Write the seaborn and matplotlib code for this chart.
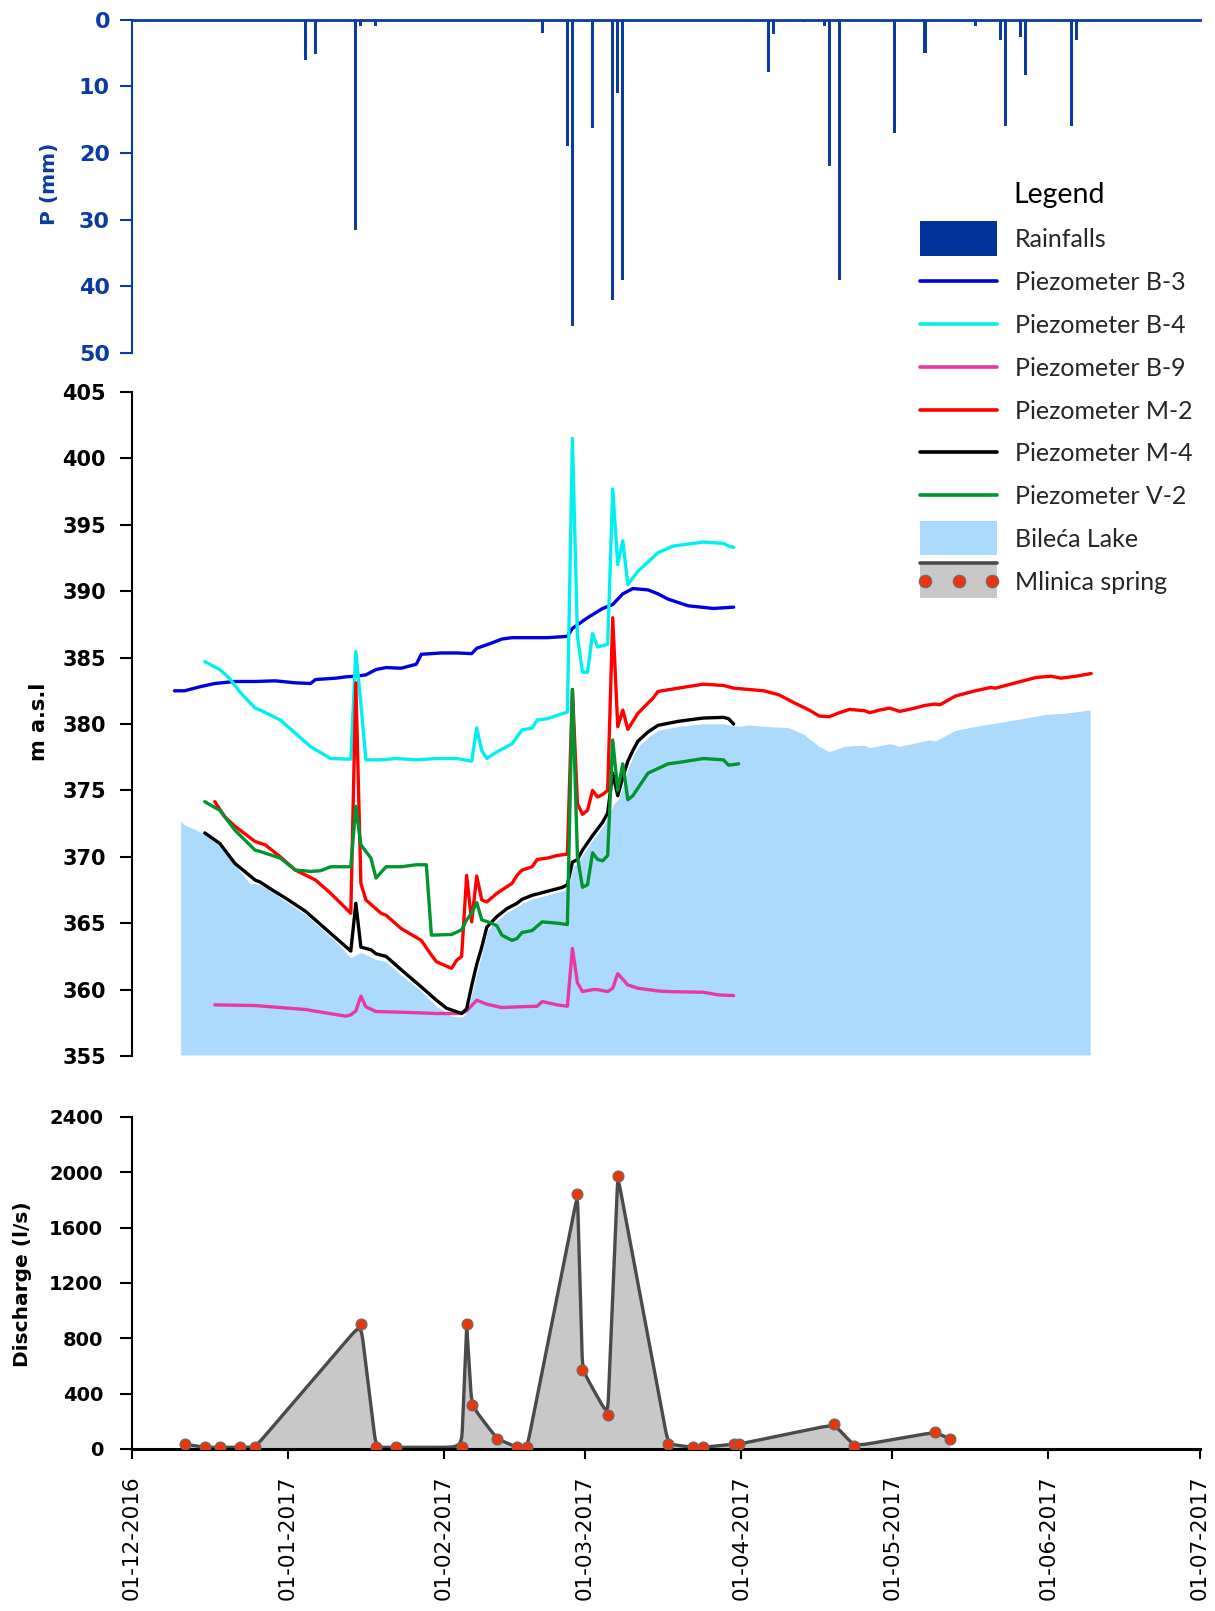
import numpy as np
import pandas as pd
import matplotlib
matplotlib.use("Agg")
import matplotlib.pyplot as plt
import matplotlib.dates as mdates
from matplotlib.patches import Rectangle
from matplotlib.lines import Line2D
from matplotlib.legend_handler import HandlerBase
import seaborn as sns

# ---------------------------------------------------------------- rainfall
rain_dates = ["2017-01-04", "2017-01-06", "2017-01-14", "2017-01-15", "2017-01-18",
              "2017-02-20", "2017-02-25", "2017-02-26", "2017-03-01", "2017-03-02",
              "2017-03-06", "2017-03-07", "2017-03-08", "2017-04-06", "2017-04-07",
              "2017-04-13", "2017-04-17", "2017-04-18", "2017-04-20", "2017-05-01",
              "2017-05-07", "2017-05-17", "2017-05-22", "2017-05-23", "2017-05-26",
              "2017-05-27", "2017-06-05", "2017-06-06"]
rain_mm = [6.1, 5.2, 31.5, 1.0, 1.0,
           2.0, 19.0, 46.0, 0.3, 16.2,
           42.0, 11.0, 39.0, 7.9, 2.1,
           0.3, 1.0, 22.0, 39.0, 17.0,
           5.0, 1.0, 3.0, 16.0, 2.6,
           8.3, 16.0, 3.0]

# ---------------------------------------------------------------- piezometers (m a.s.l.)
b3_dates = ["2016-12-09", "2016-12-11", "2016-12-14", "2016-12-17", "2016-12-21", "2016-12-25",
            "2016-12-29", "2017-01-02", "2017-01-05", "2017-01-06", "2017-01-10", "2017-01-12",
            "2017-01-14", "2017-01-16", "2017-01-18", "2017-01-20", "2017-01-23", "2017-01-26",
            "2017-01-27", "2017-01-31", "2017-02-03", "2017-02-06", "2017-02-07", "2017-02-10",
            "2017-02-12", "2017-02-14", "2017-02-18", "2017-02-21", "2017-02-25", "2017-02-26",
            "2017-03-01", "2017-03-04", "2017-03-06", "2017-03-08", "2017-03-10", "2017-03-13",
            "2017-03-15", "2017-03-17", "2017-03-21", "2017-03-26", "2017-03-30"]
b3_level = [382.5, 382.5, 382.8, 383.05, 383.2, 383.2,
            383.25, 383.1, 383.05, 383.35, 383.45, 383.55,
            383.6, 383.7, 384.1, 384.25, 384.2, 384.5,
            385.25, 385.35, 385.35, 385.3, 385.7, 386.1,
            386.4, 386.5, 386.5, 386.5, 386.6, 387.2,
            388.0, 388.7, 389.0, 389.8, 390.2, 390.1,
            389.8, 389.4, 388.9, 388.7, 388.8]

b4_dates = ["2016-12-15", "2016-12-18", "2016-12-20", "2016-12-22", "2016-12-25", "2016-12-26",
            "2016-12-30", "2017-01-02", "2017-01-05", "2017-01-09", "2017-01-13", "2017-01-14",
            "2017-01-15", "2017-01-16", "2017-01-19", "2017-01-22", "2017-01-26", "2017-01-30",
            "2017-02-03", "2017-02-06", "2017-02-07", "2017-02-08", "2017-02-09", "2017-02-11",
            "2017-02-14", "2017-02-16", "2017-02-18", "2017-02-19", "2017-02-21", "2017-02-23",
            "2017-02-25", "2017-02-26", "2017-02-27", "2017-02-28", "2017-03-01", "2017-03-02",
            "2017-03-03", "2017-03-05", "2017-03-06", "2017-03-07", "2017-03-08", "2017-03-09",
            "2017-03-11", "2017-03-15", "2017-03-18", "2017-03-21", "2017-03-24", "2017-03-28",
            "2017-03-29", "2017-03-30"]
b4_level = [384.7, 384.1, 383.4, 382.4, 381.2, 381.05,
            380.3, 379.3, 378.3, 377.4, 377.35, 385.45,
            381.5, 377.3, 377.3, 377.4, 377.3, 377.4,
            377.4, 377.2, 379.7, 378.0, 377.4, 377.9,
            378.5, 379.55, 379.7, 380.3, 380.4, 380.65,
            380.9, 401.5, 386.6, 383.9, 383.9, 386.8,
            385.8, 386.0, 397.7, 392.0, 393.8, 390.5,
            391.5, 392.9, 393.4, 393.55, 393.7, 393.6,
            393.4, 393.3]

b9_dates = ["2016-12-17", "2016-12-25", "2017-01-04", "2017-01-12", "2017-01-13", "2017-01-14",
            "2017-01-15", "2017-01-16", "2017-01-18", "2017-01-23", "2017-01-30", "2017-02-04",
            "2017-02-05", "2017-02-07", "2017-02-09", "2017-02-12", "2017-02-15", "2017-02-19",
            "2017-02-20", "2017-02-23", "2017-02-25", "2017-02-26", "2017-02-27", "2017-02-28",
            "2017-03-02", "2017-03-03", "2017-03-05", "2017-03-06", "2017-03-07", "2017-03-09",
            "2017-03-11", "2017-03-15", "2017-03-17", "2017-03-24", "2017-03-27", "2017-03-30"]
b9_level = [358.85, 358.8, 358.5, 358.0, 358.1, 358.4,
            359.5, 358.7, 358.35, 358.3, 358.2, 358.2,
            358.4, 359.2, 358.9, 358.65, 358.7, 358.75,
            359.1, 358.85, 358.75, 363.1, 360.5, 359.85,
            360.0, 360.0, 359.85, 360.1, 361.2, 360.35,
            360.1, 359.9, 359.85, 359.8, 359.6, 359.55]

m2_dates = ["2016-12-17", "2016-12-19", "2016-12-21", "2016-12-25", "2016-12-27", "2016-12-30",
            "2017-01-02", "2017-01-06", "2017-01-09", "2017-01-13", "2017-01-14", "2017-01-15",
            "2017-01-16", "2017-01-19", "2017-01-20", "2017-01-23", "2017-01-27", "2017-01-29",
            "2017-01-30", "2017-02-02", "2017-02-03", "2017-02-04", "2017-02-05", "2017-02-06",
            "2017-02-07", "2017-02-08", "2017-02-09", "2017-02-11", "2017-02-14", "2017-02-15",
            "2017-02-16", "2017-02-18", "2017-02-19", "2017-02-21", "2017-02-23", "2017-02-25",
            "2017-02-26", "2017-02-27", "2017-02-28", "2017-03-01", "2017-03-02", "2017-03-03",
            "2017-03-04", "2017-03-05", "2017-03-06", "2017-03-07", "2017-03-08", "2017-03-09",
            "2017-03-11", "2017-03-14", "2017-03-15", "2017-03-19", "2017-03-24", "2017-03-28",
            "2017-03-30", "2017-04-02", "2017-04-05", "2017-04-08", "2017-04-11", "2017-04-14",
            "2017-04-16", "2017-04-18", "2017-04-20", "2017-04-22", "2017-04-25", "2017-04-26",
            "2017-04-28", "2017-04-30", "2017-05-02", "2017-05-05", "2017-05-07", "2017-05-09",
            "2017-05-10", "2017-05-13", "2017-05-17", "2017-05-20", "2017-05-21", "2017-05-25",
            "2017-05-29", "2017-06-01", "2017-06-03", "2017-06-06", "2017-06-09"]
m2_level = [374.15, 373.0, 372.3, 371.15, 370.9, 370.0,
            369.0, 368.25, 367.25, 365.75, 383.1, 368.0,
            366.75, 365.75, 365.6, 364.6, 363.7, 362.6,
            362.1, 361.6, 362.2, 362.5, 368.6, 365.1,
            368.55, 366.75, 366.6, 367.25, 368.0, 368.6,
            369.0, 369.25, 369.8, 369.9, 370.1, 370.2,
            382.6, 374.0, 373.2, 373.5, 375.0, 374.5,
            374.7, 375.0, 388.0, 379.8, 381.05, 379.6,
            380.8, 381.95, 382.45, 382.7, 383.0, 382.9,
            382.7, 382.6, 382.5, 382.2, 381.6, 381.05,
            380.6, 380.55, 380.85, 381.1, 381.0, 380.85,
            381.05, 381.2, 380.95, 381.2, 381.4, 381.5,
            381.45, 382.1, 382.5, 382.75, 382.7, 383.1,
            383.5, 383.6, 383.45, 383.6, 383.8]

m4_dates = ["2016-12-15", "2016-12-18", "2016-12-21", "2016-12-25", "2016-12-26", "2016-12-28",
            "2016-12-31", "2017-01-04", "2017-01-07", "2017-01-10", "2017-01-13", "2017-01-14",
            "2017-01-15", "2017-01-17", "2017-01-18", "2017-01-20", "2017-01-23", "2017-01-27",
            "2017-01-30", "2017-02-01", "2017-02-04", "2017-02-05", "2017-02-06", "2017-02-07",
            "2017-02-08", "2017-02-09", "2017-02-11", "2017-02-13", "2017-02-15", "2017-02-16",
            "2017-02-18", "2017-02-21", "2017-02-24", "2017-02-25", "2017-02-26", "2017-02-27",
            "2017-02-28", "2017-03-02", "2017-03-04", "2017-03-05", "2017-03-06", "2017-03-07",
            "2017-03-08", "2017-03-09", "2017-03-10", "2017-03-11", "2017-03-13", "2017-03-15",
            "2017-03-19", "2017-03-24", "2017-03-28", "2017-03-29", "2017-03-30"]
m4_level = [371.8, 371.0, 369.5, 368.25, 368.1, 367.6,
            366.9, 365.9, 364.9, 363.9, 362.9, 366.5,
            363.2, 363.0, 362.7, 362.5, 361.5, 360.2,
            359.2, 358.6, 358.2, 358.55, 360.3, 361.9,
            363.2, 364.7, 365.5, 366.1, 366.5, 366.8,
            367.1, 367.4, 367.7, 367.9, 369.6, 369.8,
            370.5, 371.6, 372.6, 373.3, 376.3, 374.6,
            376.0, 377.2, 378.0, 378.7, 379.4, 379.9,
            380.2, 380.45, 380.5, 380.4, 380.0]

v2_dates = ["2016-12-15", "2016-12-18", "2016-12-21", "2016-12-25", "2016-12-26", "2016-12-30",
            "2017-01-02", "2017-01-05", "2017-01-07", "2017-01-09", "2017-01-13", "2017-01-14",
            "2017-01-15", "2017-01-17", "2017-01-18", "2017-01-20", "2017-01-23", "2017-01-26",
            "2017-01-28", "2017-01-29", "2017-02-02", "2017-02-04", "2017-02-05", "2017-02-06",
            "2017-02-07", "2017-02-08", "2017-02-10", "2017-02-11", "2017-02-12", "2017-02-14",
            "2017-02-15", "2017-02-16", "2017-02-18", "2017-02-20", "2017-02-23", "2017-02-25",
            "2017-02-26", "2017-02-27", "2017-02-28", "2017-03-01", "2017-03-02", "2017-03-03",
            "2017-03-04", "2017-03-05", "2017-03-06", "2017-03-07", "2017-03-08", "2017-03-09",
            "2017-03-10", "2017-03-13", "2017-03-17", "2017-03-19", "2017-03-24", "2017-03-28",
            "2017-03-29", "2017-03-31"]
v2_level = [374.15, 373.5, 372.0, 370.5, 370.4, 369.9,
            369.0, 368.9, 368.95, 369.25, 369.25, 373.8,
            370.9, 369.9, 368.4, 369.25, 369.25, 369.4,
            369.4, 364.1, 364.15, 364.5, 365.25, 365.75,
            366.55, 365.25, 365.0, 364.8, 364.1, 363.7,
            363.85, 364.3, 364.45, 365.1, 365.0, 364.9,
            382.6, 370.0, 367.7, 367.9, 370.3, 369.8,
            369.7, 370.1, 378.8, 375.0, 377.0, 374.3,
            374.6, 376.3, 377.0, 377.1, 377.4, 377.3,
            376.9, 377.0]

lake_dates = ["2016-12-10", "2016-12-11", "2016-12-15", "2016-12-18", "2016-12-21", "2016-12-24",
              "2016-12-26", "2016-12-28", "2016-12-31", "2017-01-04", "2017-01-07", "2017-01-10",
              "2017-01-13", "2017-01-15", "2017-01-18", "2017-01-20", "2017-01-23", "2017-01-27",
              "2017-01-30", "2017-02-02", "2017-02-04", "2017-02-05", "2017-02-06", "2017-02-08",
              "2017-02-09", "2017-02-11", "2017-02-13", "2017-02-15", "2017-02-16", "2017-02-18",
              "2017-02-21", "2017-02-24", "2017-02-25", "2017-02-26", "2017-02-27", "2017-02-28",
              "2017-03-02", "2017-03-04", "2017-03-05", "2017-03-06", "2017-03-07", "2017-03-08",
              "2017-03-09", "2017-03-10", "2017-03-11", "2017-03-13", "2017-03-15", "2017-03-19",
              "2017-03-24", "2017-03-28", "2017-03-31", "2017-04-02", "2017-04-05", "2017-04-10",
              "2017-04-13", "2017-04-16", "2017-04-18", "2017-04-21", "2017-04-25", "2017-04-26",
              "2017-04-30", "2017-05-02", "2017-05-08", "2017-05-09", "2017-05-13", "2017-05-17",
              "2017-05-25", "2017-05-31", "2017-06-04", "2017-06-09"]
lake_level = [372.9, 372.5, 371.8, 370.9, 369.5, 368.1,
              368.0, 367.55, 366.75, 365.75, 364.75, 363.75,
              362.5, 362.9, 362.35, 362.2, 361.2, 360.0,
              358.85, 358.1, 358.0, 358.4, 360.0, 363.0,
              364.5, 365.3, 365.9, 366.3, 366.6, 366.9,
              367.2, 367.5, 367.7, 369.3, 369.6, 370.3,
              371.4, 372.4, 373.1, 374.0, 374.4, 375.6,
              376.8, 377.7, 378.4, 379.1, 379.6, 379.9,
              380.1, 380.1, 379.9, 380.0, 379.9, 379.8,
              379.3, 378.4, 378.0, 378.4, 378.5, 378.3,
              378.6, 378.4, 378.9, 378.8, 379.6, 379.9,
              380.4, 380.8, 380.9, 381.15]

# ---------------------------------------------------------------- Mlinica spring discharge (l/s)
q_dates = ["2016-12-11", "2016-12-15", "2016-12-18", "2016-12-22", "2016-12-25", "2017-01-15",
           "2017-01-18", "2017-01-22", "2017-02-04", "2017-02-05", "2017-02-06", "2017-02-11",
           "2017-02-15", "2017-02-17", "2017-02-27", "2017-02-28", "2017-03-05", "2017-03-07",
           "2017-03-17", "2017-03-22", "2017-03-24", "2017-03-30", "2017-03-31", "2017-04-19",
           "2017-04-23", "2017-05-09", "2017-05-12"]
q_ls = [35, 12, 12, 12, 12, 905,
        12, 12, 12, 905, 315, 75,
        12, 12, 1840, 570, 245, 1975,
        35, 12, 12, 35, 35, 178,
        20, 122, 72]

well_names = ["Piezometer B-3", "Piezometer B-4", "Piezometer B-9",
              "Piezometer M-2", "Piezometer M-4", "Piezometer V-2"]
well_colors = ["#0000e0", "#00f0f0", "#e8399e", "#ff0000", "#000000", "#00952f"]

RAIN_BLUE = "#0b3aa3"
AXIS_BLUE = "#0b3aa3"
LEGEND_RAIN = "#003399"
LAKE_BLUE = "#abdafc"
SPRING_GRAY = "#c8c8c8"
SPRING_LINE = "#4a4a4a"
SPRING_DOT = "#e8360e"

START = pd.Timestamp("2016-12-01")
END = pd.Timestamp("2017-07-01")
MIDDAY = pd.Timedelta(hours=12)   # daily values are drawn at the middle of their day

sns.set_style("white")
plt.rcParams["font.family"] = ["DejaVu Sans"]
LEGEND_FONT = ["Lato", "DejaVu Sans"]

W, H = 1215, 1611
fig = plt.figure(figsize=(W / 100, H / 100), dpi=100)


def px_box(left, top, right, bottom):
    return [left / W, 1 - bottom / H, (right - left) / W, (bottom - top) / H]


X0, X1 = 131.7, 1199.5
ax_p = fig.add_axes(px_box(X0, 19.5, X1, 353))
ax_h = fig.add_axes(px_box(X0, 392, X1, 1056))
ax_q = fig.add_axes(px_box(X0, 1117, X1, 1449))

# ---------------------------------------------------------------- rainfall panel
rain_t = pd.to_datetime(rain_dates) + MIDDAY
ax_p.bar(rain_t, rain_mm, width=0.6, color=RAIN_BLUE, linewidth=0)
ax_p.set_xlim(START, END)
ax_p.set_ylim(50, 0)
ax_p.set_yticks(range(0, 51, 10))
ax_p.tick_params(axis="x", bottom=False, top=False, labelbottom=False)
ax_p.tick_params(axis="y", direction="out", length=8.6, width=1.5, pad=7,
                 colors=AXIS_BLUE, labelsize=16, left=True)
plt.setp(ax_p.get_yticklabels(), fontweight="bold")
for side in ("bottom", "right"):
    ax_p.spines[side].set_visible(False)
ax_p.spines["top"].set_color(AXIS_BLUE)
ax_p.spines["top"].set_linewidth(2)
ax_p.spines["left"].set_color(AXIS_BLUE)
ax_p.spines["left"].set_linewidth(1.5)

# ---------------------------------------------------------------- piezometer panel
lake_t = pd.to_datetime(lake_dates) + MIDDAY
ax_h.fill_between(lake_t, 355, lake_level, facecolor=LAKE_BLUE, edgecolor="white",
                  linewidth=1.5, zorder=1)

series = [b3_dates, b4_dates, b9_dates, m2_dates, m4_dates, v2_dates]
values = [b3_level, b4_level, b9_level, m2_level, m4_level, v2_level]
levels = pd.concat(
    [pd.DataFrame({"date": pd.to_datetime(d) + MIDDAY, "level": v, "well": n})
     for n, d, v in zip(well_names, series, values)],
    ignore_index=True)
sns.lineplot(data=levels, x="date", y="level", hue="well", hue_order=well_names,
             palette=dict(zip(well_names, well_colors)), estimator=None,
             linewidth=2.4, legend=False, ax=ax_h, zorder=2)
ax_h.set_xlabel("")
ax_h.set_ylabel("")
ax_h.set_xlim(START, END)
ax_h.set_ylim(355, 405)
ax_h.set_yticks(range(355, 406, 5))
ax_h.tick_params(axis="x", bottom=False, labelbottom=False)
ax_h.tick_params(axis="y", direction="out", length=8.6, width=1.5, pad=10,
                 colors="black", labelsize=15, left=True)
plt.setp(ax_h.get_yticklabels(), fontweight="bold")
for side in ("top", "bottom", "right"):
    ax_h.spines[side].set_visible(False)
ax_h.spines["left"].set_color("black")
ax_h.spines["left"].set_linewidth(1.5)

# ---------------------------------------------------------------- discharge panel
q_t = pd.to_datetime(q_dates) + MIDDAY
q_days = np.asarray((q_t - START) / pd.Timedelta(days=1), dtype=float)
q_vals = np.asarray(q_ls, dtype=float)

# connecting line with softly rounded corners, built in screen proportions
sx = (X1 - X0) / ((END - START).days)   # px per day
sy = (1449 - 1117) / 2400.0             # px per l/s
P = np.column_stack([q_days * sx, q_vals * sy])


def rounded_path(pts, radius=24.0, steps=18):
    t = np.linspace(0.0, 1.0, steps)[:, None]
    path = [pts[0]]
    for i in range(1, len(pts) - 1):
        v_in, v_out = pts[i] - pts[i - 1], pts[i + 1] - pts[i]
        l_in, l_out = np.hypot(*v_in), np.hypot(*v_out)
        if l_in == 0 or l_out == 0:
            path.append(pts[i])
            continue
        a = pts[i] - v_in / l_in * min(0.5 * l_in, radius)
        b = pts[i] + v_out / l_out * min(0.5 * l_out, radius)
        corner = ((1 - t) ** 3 * a + 3 * (1 - t) ** 2 * t * pts[i]
                  + 3 * (1 - t) * t ** 2 * pts[i] + t ** 3 * b)
        path.extend(corner)
    path.append(pts[-1])
    return np.array(path)


curve = rounded_path(P)
curve_t = START + pd.to_timedelta(curve[:, 0] / sx, unit="D")
curve_q = np.clip(curve[:, 1] / sy, 0, None)

poly_t = curve_t.append(pd.DatetimeIndex([curve_t[-1], curve_t[0]]))
poly_q = np.r_[curve_q, 0, 0]
sns.scatterplot(x=q_t, y=q_vals, ax=ax_q, s=62, color=SPRING_DOT, edgecolor="#6b6b6b",
                linewidth=0.8, zorder=4, legend=False)
ax_q.fill(poly_t, poly_q, color=SPRING_GRAY, linewidth=0, zorder=1)
ax_q.plot(curve_t, curve_q, color=SPRING_LINE, linewidth=2.4, zorder=2,
          solid_joinstyle="round")
ax_q.set_xlabel("")
ax_q.set_ylabel("")

ax_q.set_xlim(START, END)
ax_q.set_ylim(0, 2400)
ax_q.set_yticks(range(0, 2401, 400))
ax_q.xaxis.set_major_locator(mdates.MonthLocator())
ax_q.xaxis.set_major_formatter(mdates.DateFormatter("%d-%m-%Y"))
ax_q.tick_params(axis="x", direction="out", length=7, width=1.5, pad=12,
                 labelsize=15.5, labelrotation=90, bottom=True, colors="black")
ax_q.tick_params(axis="y", direction="out", length=8.6, width=1.5, pad=12,
                 labelsize=14, left=True, colors="black")
plt.setp(ax_q.get_yticklabels(), fontweight="bold")
for side in ("top", "right"):
    ax_q.spines[side].set_visible(False)
ax_q.spines["left"].set_color("black")
ax_q.spines["left"].set_linewidth(1.5)
ax_q.spines["bottom"].set_color("black")
ax_q.spines["bottom"].set_linewidth(2.2)

# ---------------------------------------------------------------- axis titles
fig.text(50 / W, 1 - 184 / H, "P (mm)", rotation=90, ha="center", va="center",
         color=AXIS_BLUE, fontsize=14.5, fontweight="bold")
fig.text(39 / W, 1 - 722 / H, "m a.s.l", rotation=90, ha="center", va="center",
         color="black", fontsize=15, fontweight="bold")
fig.text(23 / W, 1 - 1284 / H, "Discharge (l/s)", rotation=90, ha="center", va="center",
         color="black", fontsize=14.5, fontweight="bold")


# ---------------------------------------------------------------- legend
class Key:
    def __init__(self, kind, color=None):
        self.kind = kind
        self.color = color


class KeyHandler(HandlerBase):
    """Draws every legend key centred on the label's cap height."""
    box_pt = 24.8   # height of the filled keys, in points

    def create_artists(self, legend, orig_handle, xdescent, ydescent, width, height,
                       fontsize, trans):
        x0 = -xdescent
        yc = 0.36 * fontsize
        lo, hi = yc - self.box_pt / 2, yc + self.box_pt / 2
        kind = orig_handle.kind
        if kind == "line":
            return [Line2D([x0, x0 + width], [yc, yc], color=orig_handle.color,
                           linewidth=2.6, transform=trans)]
        if kind == "patch":
            return [Rectangle((x0, lo), width, hi - lo, facecolor=orig_handle.color,
                              edgecolor="none", transform=trans)]
        band = Rectangle((x0, lo), width, hi - lo, facecolor=SPRING_GRAY,
                         edgecolor="none", transform=trans)
        rim = Line2D([x0, x0 + width], [hi, hi], color=SPRING_LINE,
                     linewidth=2.6, transform=trans)
        dots = Line2D(x0 + width * np.array([0.06, 0.5, 0.94]), [yc] * 3,
                      linestyle="none", marker="o", markersize=9,
                      markerfacecolor=SPRING_DOT, markeredgecolor="#6b6b6b",
                      markeredgewidth=0.8, transform=trans)
        return [band, rim, dots]


handles = ([Key("patch", LEGEND_RAIN)] + [Key("line", c) for c in well_colors]
           + [Key("patch", LAKE_BLUE), Key("spring")])
labels = ["Rainfalls"] + well_names + ["Bileća Lake", "Mlinica spring"]

fig.text(1059.5 / W, 1 - 203 / H, "Legend", ha="center", va="baseline",
         family=LEGEND_FONT, fontsize=20.5, color="black")
fig.legend(handles, labels, loc="upper left", bbox_to_anchor=(920 / W, 1 - 220.6 / H),
           frameon=False, borderpad=0, borderaxespad=0,
           prop={"family": LEGEND_FONT, "size": 18},
           handlelength=3.08, handleheight=1.948, handletextpad=0.72, labelspacing=0.2,
           handler_map={Key: KeyHandler()})

fig.savefig("out.png", dpi=100)
